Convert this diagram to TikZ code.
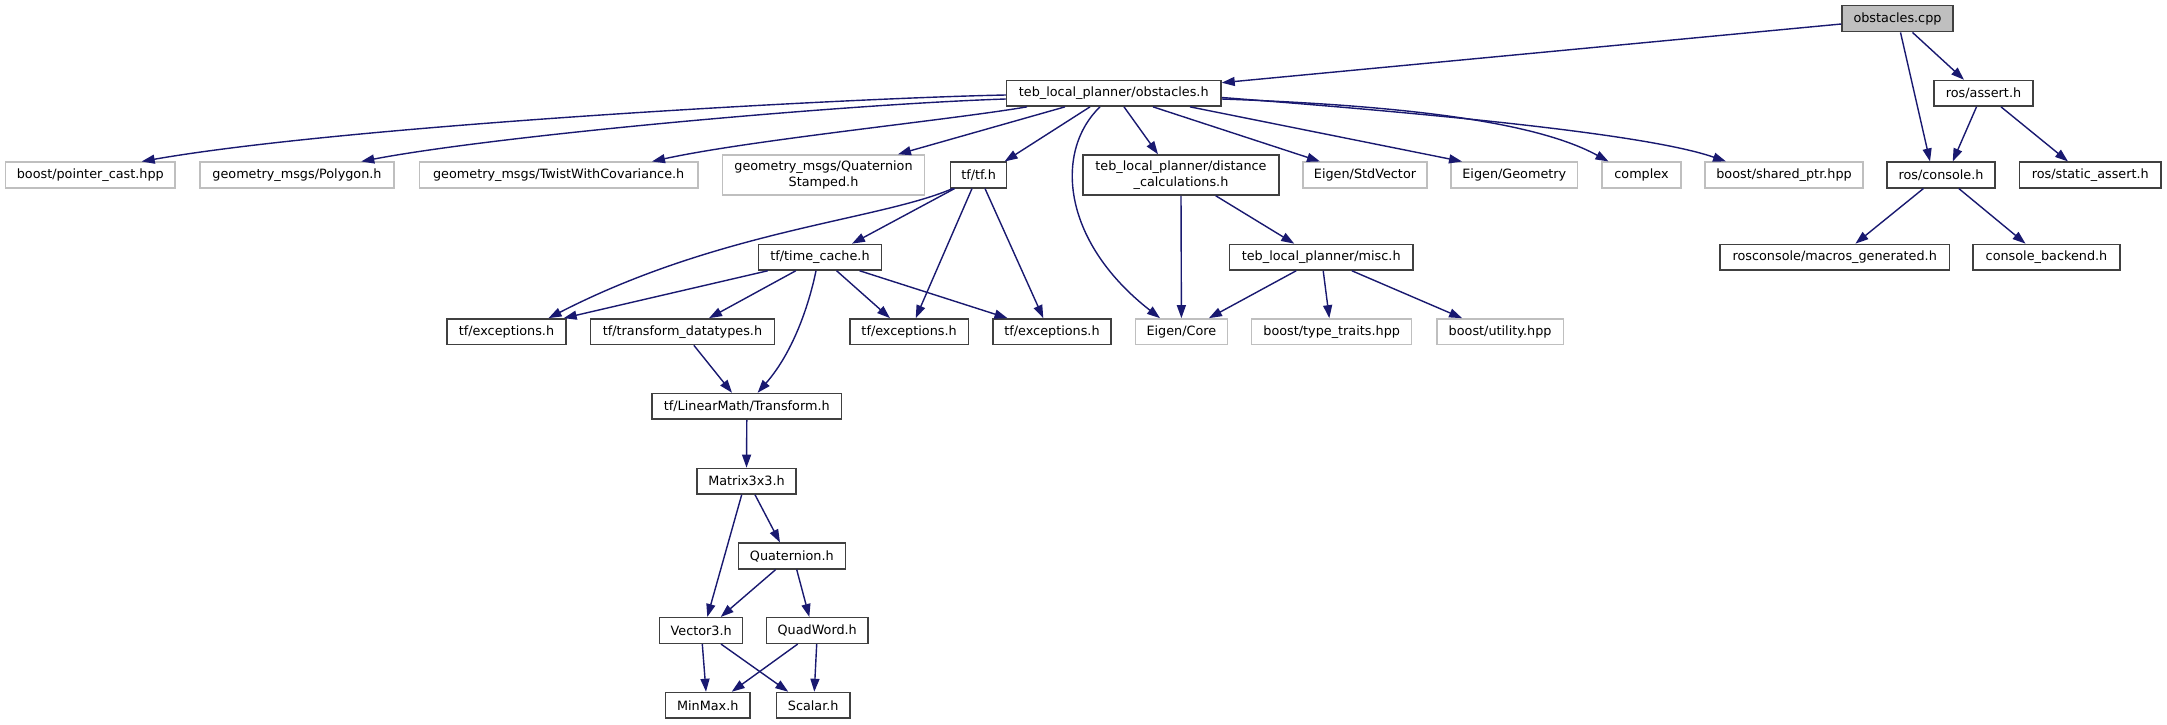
\documentclass[tikz,border=0pt]{standalone}
\usepackage{fontspec}
\setmainfont{DejaVu Sans}
\usetikzlibrary{arrows.meta}
\definecolor{edgec}{HTML}{191970}
\definecolor{lightc}{HTML}{BFBFBF}
\definecolor{darkc}{HTML}{404040}
\begin{document}
\begin{tikzpicture}[x=1pt,y=-1pt,
  gbox/.style={rectangle, inner sep=0pt, font=\fontsize{12.8}{16}\selectfont, minimum height=25.6pt, line width=1.5pt, align=center},
  hbox/.style={gbox, draw=darkc},
  lbox/.style={gbox, draw=lightc},
  e/.style={draw=edgec, line width=1.4pt, -{Triangle[length=13pt,width=9pt]}}]
\useasboundingbox[fill=white] (0,0) rectangle (2167,724);
% row 0
\node[hbox, fill=lightc, minimum width=111pt, minimum height=26pt] (cpp) at (1897.5,18.7) {obstacles.cpp};
% row 1
\node[hbox, minimum width=214.5pt] (obs) at (1113.75,93.3) {teb\_local\_planner/obstacles.h};
\node[hbox, minimum width=99pt] (assert) at (1983.5,93.3) {ros/assert.h};
% row 2
\node[lbox, minimum width=169.4pt] (pcast) at (90.3,175) {boost/pointer\_cast.hpp};
\node[lbox, minimum width=194pt] (poly) at (297,175) {geometry\_msgs/Polygon.h};
\node[lbox, minimum width=278.5pt] (twist) at (558.7,175) {geometry\_msgs/TwistWithCovariance.h};
\node[lbox, minimum width=202pt, minimum height=40pt] (qstamp) at (823.5,175) {geometry\_msgs/Quaternion\\Stamped.h};
\node[hbox, minimum width=56.2pt] (tf) at (978.6,175) {tf/tf.h};
\node[hbox, minimum width=196pt, minimum height=40pt] (dist) at (1181,175) {teb\_local\_planner/distance\\\_calculations.h};
\node[lbox, minimum width=124pt] (stdvec) at (1365,175) {Eigen/StdVector};
\node[lbox, minimum width=126.6pt] (geom) at (1514.3,175) {Eigen/Geometry};
\node[lbox, minimum width=79pt] (cplx) at (1641.5,175) {complex};
\node[lbox, minimum width=158pt] (shptr) at (1784,175) {boost/shared\_ptr.hpp};
\node[hbox, minimum width=108pt] (console) at (1941,175) {ros/console.h};
\node[hbox, minimum width=141.4pt] (sassert) at (2090.3,175) {ros/static\_assert.h};
% row 3
\node[hbox, minimum width=123pt] (tcache) at (820,257.2) {tf/time\_cache.h};
\node[hbox, minimum width=183.7pt] (misc) at (1321.2,257.2) {teb\_local\_planner/misc.h};
\node[hbox, minimum width=229.3pt] (macros) at (1834.7,257.2) {rosconsole/macros\_generated.h};
\node[hbox, minimum width=147pt] (backend) at (2046.5,257.2) {console\_backend.h};
% row 4
\node[hbox, minimum width=119.4pt] (exa) at (506.5,331.7) {tf/exceptions.h};
\node[hbox, minimum width=183.7pt] (tdt) at (682.5,331.7) {tf/transform\_datatypes.h};
\node[hbox, minimum width=118.4pt] (exb) at (909.1,331.7) {tf/exceptions.h};
\node[hbox, minimum width=118.3pt] (exc) at (1052,331.7) {tf/exceptions.h};
\node[lbox, minimum width=91.8pt] (core) at (1181.4,331.7) {Eigen/Core};
\node[lbox, minimum width=160pt] (ttraits) at (1331.7,331.7) {boost/type\_traits.hpp};
\node[lbox, minimum width=126.6pt] (util) at (1500.1,331.7) {boost/utility.hpp};
% lower rows
\node[hbox, minimum width=189.8pt] (transf) at (746.8,406.3) {tf/LinearMath/Transform.h};
\node[hbox, minimum width=99pt] (mat) at (746.5,481.2) {Matrix3x3.h};
\node[hbox, minimum width=107pt] (quat) at (791.8,556) {Quaternion.h};
\node[hbox, minimum width=83pt] (vec) at (701.2,630.5) {Vector3.h};
\node[hbox, minimum width=101.7pt] (quad) at (817.2,630.5) {QuadWord.h};
\node[hbox, minimum width=84.3pt] (minmax) at (707.8,705.3) {MinMax.h};
\node[hbox, minimum width=73.7pt] (scalar) at (813.2,705.3) {Scalar.h};
% edges from obstacles.cpp
\draw[e] ([yshift=-5.3pt]cpp.west) -- ([yshift=10.6pt]obs.east);
\draw[e] ([xshift=15pt]cpp.south) -- ([xshift=-19.5pt]assert.north);
\draw[e] ([xshift=3pt]cpp.south) -- ([xshift=-11pt]console.north);
\draw[e] ([xshift=-7pt]assert.south) -- ([xshift=11.7pt]console.north);
\draw[e] ([xshift=17.5pt]assert.south) -- ([xshift=-22.3pt]sassert.north);
\draw[e] ([xshift=-17.6pt]console.south) -- ([xshift=20.7pt]macros.north);
\draw[e] ([xshift=17.8pt]console.south) -- ([xshift=-21pt]backend.north);
% edges from obstacles.h
\draw[e] ([yshift=-1.7pt]obs.west) .. controls (850,98) and (350,125) .. ([xshift=51.4pt]pcast.north);
\draw[e] ([yshift=-5.7pt]obs.west) .. controls (850,104) and (500,135) .. ([xshift=64.3pt]poly.north);
\draw[e] ([xshift=-86.75pt]obs.south) .. controls (950,120) and (750,140) .. ([xshift=93.3pt]twist.north);
\draw[e] ([xshift=-48.75pt]obs.south) -- ([xshift=74.5pt]qstamp.north);
\draw[e] ([xshift=-23.75pt]obs.south) -- ([xshift=26pt]tf.north);
\draw[e] ([xshift=-13.75pt]obs.south) .. controls (1055,150) and (1060,240) .. ([xshift=-21.4pt]core.north);
\draw[e] ([xshift=10.25pt]obs.south) -- ([xshift=-23pt]dist.north);
\draw[e] ([xshift=39.25pt]obs.south) -- ([xshift=-45pt]stdvec.north);
\draw[e] ([xshift=76.25pt]obs.south) -- ([xshift=-52.3pt]geom.north);
\draw[e] ([yshift=-5.7pt]obs.east) .. controls (1420,106) and (1540,124) .. ([xshift=-33pt]cplx.north);
\draw[e] ([yshift=-4.2pt]obs.east) .. controls (1450,115) and (1650,135) .. ([xshift=-58pt]shptr.north);
% distance / misc
\draw[e] (dist.south) -- (core.north);
\draw[e] ([xshift=34.7pt]dist.south) -- ([xshift=-27pt]misc.north);
\draw[e] ([xshift=-25pt]misc.south) -- ([xshift=27.5pt]core.north);
\draw[e] ([xshift=2pt]misc.south) -- ([xshift=-2.4pt]ttraits.north);
\draw[e] ([xshift=30.6pt]misc.south) -- ([xshift=-38pt]util.north);
% tf
\draw[e] ([xshift=-26pt]tf.south) .. controls (880,220) and (720,230) .. ([xshift=42pt]exa.north);
\draw[e] ([xshift=-24pt]tf.south) -- ([xshift=32pt]tcache.north);
\draw[e] ([xshift=-6.6pt]tf.south) -- ([xshift=6.6pt]exb.north);
\draw[e] ([xshift=6.4pt]tf.south) -- ([xshift=-8.7pt]exc.north);
% time_cache
\draw[e] ([xshift=-52.2pt]tcache.south) -- ([xshift=57.2pt]exa.north);
\draw[e] ([xshift=-24.2pt]tcache.south) -- ([xshift=26.5pt]tdt.north);
\draw[e] ([xshift=-4pt]tcache.south) .. controls (810,300) and (795,350) .. ([xshift=10.8pt]transf.north);
\draw[e] ([xshift=16.6pt]tcache.south) -- ([xshift=-19.1pt]exb.north);
\draw[e] ([xshift=39.6pt]tcache.south) -- ([xshift=-44.5pt]exc.north);
\draw[e] ([xshift=11.3pt]tdt.south) -- ([xshift=-14.8pt]transf.north);
% LinearMath
\draw[e] (transf.south) -- (mat.north);
\draw[e] ([xshift=-4.8pt]mat.south) -- ([xshift=6.1pt]vec.north);
\draw[e] ([xshift=8.5pt]mat.south) -- ([xshift=-11.8pt]quat.north);
\draw[e] ([xshift=-16.1pt]quat.south) -- ([xshift=19.5pt]vec.north);
\draw[e] ([xshift=4.9pt]quat.south) -- ([xshift=-7.9pt]quad.north);
\draw[e] ([xshift=1.1pt]vec.south) -- ([xshift=-1.8pt]minmax.north);
\draw[e] ([xshift=19.8pt]vec.south) -- ([xshift=-24.9pt]scalar.north);
\draw[e] ([xshift=-19.5pt]quad.south) -- ([xshift=23.9pt]minmax.north);
\draw[e] ([xshift=-0.5pt]quad.south) -- ([xshift=1.1pt]scalar.north);
\end{tikzpicture}
\end{document}
